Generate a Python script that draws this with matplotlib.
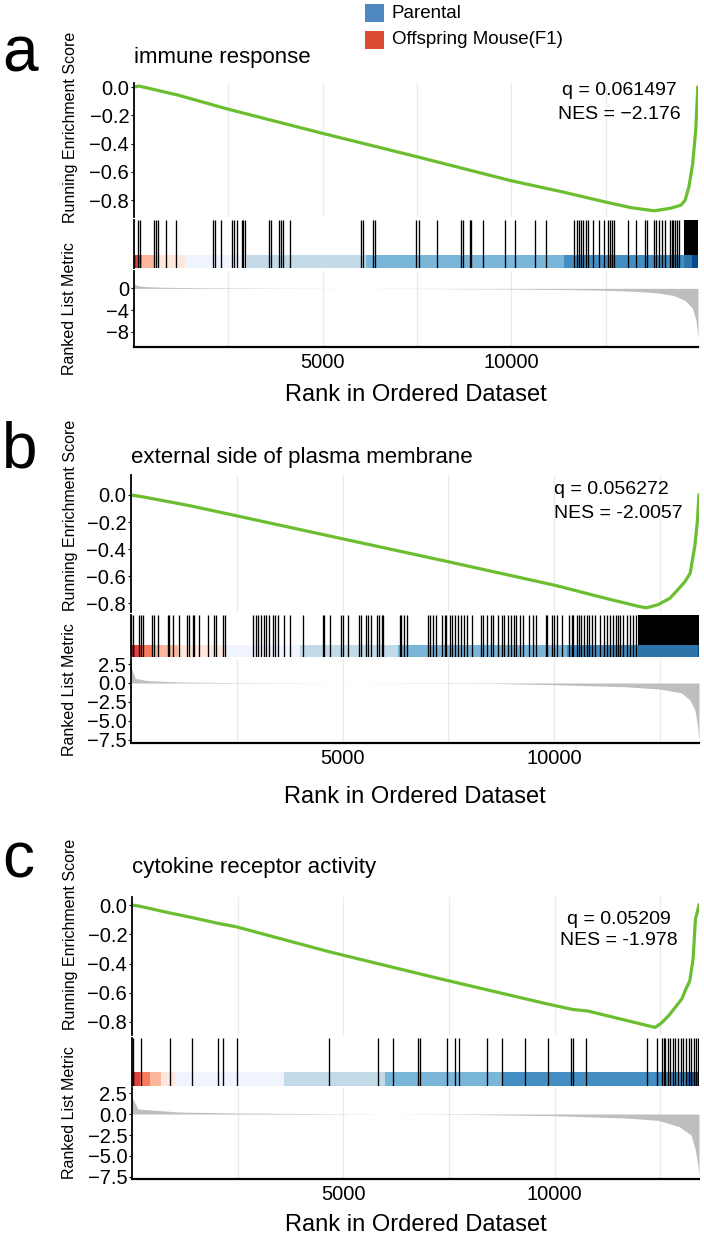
import matplotlib.pyplot as plt
from matplotlib.patches import Rectangle

# --- CONFIGURACION ---
W, H = 704, 1241
plt.rcParams['font.family'] = ['Liberation Sans', 'DejaVu Sans']

# --- DATOS ---
panel_letters = ['a', 'b', 'c']
titles = ['immune response', 'external side of plasma membrane', 'cytokine receptor activity']
q_labels = ['q = 0.061497', 'q = 0.056272', 'q = 0.05209']
nes_labels = ['NES = \u22122.176', 'NES = -2.0057', 'NES = -1.978']
legend_labels = ['Parental', 'Offspring Mouse(F1)']
legend_colors = ['#4f87c1', '#de4b35']
n_genes = [14950, 13420, 13420]

# colour strip (left = highest metric)
bar_colors = ['#A50F15', '#DE2D26', '#FB6A4A', '#FCAE91', '#FEE5D9',
              '#EFF3FF', '#BDD7E7', '#6BAED6', '#3182BD', '#08519C']
bar_breaks_a = [0, 60, 150, 220, 530, 1340, 3000, 6160, 11390, 14800, 14950]
bar_breaks_b = [0, 100, 250, 500, 1100, 2250, 4000, 6310, 10300, 13400, 13420]
bar_breaks_c = [0, 60, 200, 425, 680, 1010, 3590, 5990, 8750, 13140, 13420]

# running enrichment score
es_rank_a = [0, 120, 1140, 2500, 5000, 7490, 10000, 11340, 12500, 13180, 13790, 14200,
             14500, 14610, 14710, 14810, 14890, 14945]
es_val_a = [0.0, 0.009, -0.054, -0.156, -0.327, -0.492, -0.663, -0.741, -0.814, -0.854,
            -0.876, -0.859, -0.836, -0.800, -0.705, -0.540, -0.303, 0.0]
es_rank_b = [0, 320, 1370, 2540, 5070, 7500, 10040, 11090, 12000, 12180, 12450, 12730,
             12910, 13090, 13210, 13320, 13380, 13420]
es_val_b = [0.0, -0.016, -0.078, -0.157, -0.329, -0.494, -0.670, -0.755, -0.825, -0.835,
            -0.812, -0.765, -0.705, -0.640, -0.580, -0.380, -0.200, 0.0]
es_rank_c = [0, 160, 880, 1410, 2050, 2470, 4700, 7300, 9835, 10430, 10790, 12150, 12380,
             12520, 12700, 12880, 13020, 13110, 13200, 13280, 13335, 13420]
es_val_c = [0.0, -0.007, -0.053, -0.085, -0.126, -0.149, -0.322, -0.505, -0.677, -0.714,
            -0.725, -0.821, -0.837, -0.810, -0.757, -0.692, -0.639, -0.574, -0.520,
            -0.370, -0.100, 0.0]

# gene set hits (ranks) and stretches where they merge into solid black
hits_a = [102, 163, 530, 581, 632, 857, 1122, 2091, 2142, 2315, 2591, 2642, 2723, 2856,
          2897, 2948, 3570, 3641, 3845, 3896, 3947, 4131, 6018, 6069, 6324, 6375, 7487,
          7548, 8027, 8660, 8721, 8894, 8945, 9251, 9833, 10098, 10628, 10934, 11669,
          11730, 11801, 11852, 11914, 11975, 12036, 12158, 12322, 12464, 12566, 12617,
          12668, 12719, 13097, 13311, 13535, 13586, 13790, 13841, 13913, 13994, 14076,
          14198, 14249, 14300, 14351, 14402, 14453]
blocks_a = [(14586, 14950)]
hits_b = [10, 55, 182, 227, 291, 500, 545, 636, 873, 909, 1000, 1136, 1318, 1382, 1454,
          1500, 1618, 1818, 1954, 2000, 2163, 2227, 2891, 2954, 3000, 3072, 3136, 3200,
          3272, 3345, 3409, 3472, 3618, 3745, 4072, 4527, 4563, 4690, 4954, 5000, 5136,
          5381, 5436, 5545, 5599, 5681, 5818, 5863, 5927, 5963, 6345, 6390, 6454, 6518,
          7017, 7072, 7136, 7199, 7345, 7408, 7454, 7527, 7590, 7654, 7727, 7799, 7863,
          7927, 8045, 8272, 8317, 8408, 8499, 8545, 8681, 8772, 8817, 8908, 8981, 9045,
          9090, 9181, 9254, 9408, 9499, 9572, 9799, 9835, 9954, 9999, 10072, 10181, 10344,
          10408, 10454, 10526, 10590, 10635, 10708, 10772, 10817, 10890, 10953, 11090,
          11181, 11253, 11317, 11381, 11453, 11517, 11562, 11635, 11726, 11799, 11862,
          11926]
blocks_b = [(11980, 13420)]
hits_c = [18, 218, 900, 1409, 2027, 2154, 2491, 4672, 5827, 6172, 6772, 6818, 7445, 7654,
          7745, 8408, 8763, 9290, 9854, 10381, 10445, 10745, 12199, 12426, 12535, 12581,
          12626, 12681, 12744, 12808, 12863, 12926, 12990, 13044, 13108, 13172, 13226,
          13290, 13354, 13408]
blocks_c = []

# ranked list metric
m_rank_a = [1, 30, 100, 300, 800, 2000, 4000, 6000, 8000, 10000, 11500, 12500, 13300,
            13900, 14300, 14600, 14800, 14900, 14950]
m_val_a = [1.0, 0.75, 0.5, 0.32, 0.2, 0.1, 0.03, 0.0, -0.05, -0.12, -0.22, -0.35, -0.55,
           -0.85, -1.3, -2.2, -3.6, -6.0, -9.3]
m_rank_b = [1, 20, 100, 400, 1200, 2500, 5000, 8500, 10000, 11700, 12500, 13000, 13200,
            13320, 13390, 13420]
m_val_b = [2.4, 1.8, 0.6, 0.3, 0.13, 0.05, 0.0, -0.05, -0.22, -0.5, -0.8, -1.3, -2.2,
           -3.5, -5.8, -7.8]
m_rank_c = [1, 140, 1100, 2500, 5000, 8000, 10000, 11700, 12450, 12950, 13230, 13330,
            13390, 13420]
m_val_c = [2.0, 0.6, 0.24, 0.12, 0.03, -0.05, -0.2, -0.48, -0.75, -1.5, -2.5, -4.2, -6.0,
           -7.4]

es_ticks = [0.0, -0.2, -0.4, -0.6, -0.8]
m_ticks_a = [0, -4, -8]
m_ticks_bc = [2.5, 0.0, -2.5, -5.0, -7.5]

# --- LAYOUT (pixeles del original) ---
layouts = [
    dict(x=(134, 698), es=(83, 217), hits=(220, 268), bar=0.27, m=(271, 347),
         es_lim=(-0.92, 0.03), m_lim=(-10.8, 3.2), title_y=58, letter_y=72,
         ylab_es=127, ylab_m=309, xl_y=395, txt=(12870, -0.02, -0.19, 'center')),
    dict(x=(131, 699), es=(475, 612), hits=(615, 657), bar=0.29, m=(659, 743),
         es_lim=(-0.866, 0.148), m_lim=(-7.9, 3.16), title_y=458, letter_y=468,
         ylab_es=515, ylab_m=690, xl_y=797, txt=(9990, 0.04, -0.14, 'left')),
    dict(x=(132, 699), es=(897, 1035), hits=(1038, 1086), bar=0.29, m=(1088, 1179),
         es_lim=(-0.889, 0.055), m_lim=(-7.74, 3.1), title_y=868, letter_y=878,
         ylab_es=934, ylab_m=1113, xl_y=1225, txt=(11520, -0.1, -0.24, 'center')),
]

GREEN = '#6abe30'
GRID = '#ebebeb'
TICK_FS = 14.5
TXT_FS = 14


def px_axes(fig, xr, yr):
    x0, x1 = xr
    y0, y1 = yr
    return fig.add_axes([x0 / W, 1 - y1 / H, (x1 - x0) / W, (y1 - y0) / H])


def grid_x(ax):
    ax.set_xticks([5000, 10000])
    ax.set_xticks([2500, 7500, 12500], minor=True)
    ax.grid(axis='x', which='both', color=GRID, lw=1.0)
    ax.set_axisbelow(True)


def draw_panel(fig, i, es_rank, es_val, hits, blocks, bar_breaks, m_rank, m_val, m_ticks):
    lay = layouts[i]
    n = n_genes[i]

    # ranked list metric (first, so the colour strip covers the top tick label)
    ax_m = px_axes(fig, lay['x'], lay['m'])
    ax_m.fill_between(m_rank, m_val, 0, color='#bebebe', lw=0)
    ax_m.set_xlim(0, n)
    ax_m.set_ylim(*lay['m_lim'])
    grid_x(ax_m)
    ax_m.set_yticks(m_ticks)
    for s in ['top', 'right']:
        ax_m.spines[s].set_visible(False)
    ax_m.spines['left'].set_linewidth(1.3)
    ax_m.spines['bottom'].set_linewidth(1.6)
    ax_m.tick_params(axis='y', length=2.5, width=0.8, pad=1, labelsize=TICK_FS)
    ax_m.tick_params(axis='x', which='major', length=0, pad=4, labelsize=TICK_FS)
    ax_m.tick_params(axis='x', which='minor', length=0)

    # running enrichment score
    ax_es = px_axes(fig, lay['x'], lay['es'])
    ax_es.plot(es_rank, es_val, color=GREEN, lw=2.3, solid_joinstyle='round')
    ax_es.set_xlim(0, n)
    ax_es.set_ylim(*lay['es_lim'])
    grid_x(ax_es)
    ax_es.set_yticks(es_ticks)
    for s in ['top', 'right', 'bottom']:
        ax_es.spines[s].set_visible(False)
    ax_es.spines['left'].set_linewidth(1.3)
    ax_es.tick_params(axis='x', which='both', length=0, labelbottom=False)
    ax_es.tick_params(axis='y', length=2.5, width=0.8, pad=1, labelsize=TICK_FS)
    tx, qy, ny, ha = lay['txt']
    ax_es.text(tx, qy, q_labels[i], ha=ha, va='center', fontsize=TXT_FS)
    ax_es.text(tx, ny, nes_labels[i], ha=ha, va='center', fontsize=TXT_FS)

    # hits + colour strip
    ax_h = px_axes(fig, lay['x'], lay['hits'])
    ax_h.vlines(hits, 0, 1, color='black', lw=0.95)
    for b0, b1 in blocks:
        ax_h.axvspan(b0, b1, 0, 1, color='black', lw=0)
    for k, col in enumerate(bar_colors):
        ax_h.add_patch(Rectangle((bar_breaks[k], 0), bar_breaks[k + 1] - bar_breaks[k],
                                 lay['bar'], color=col, alpha=0.9, lw=0))
    ax_h.set_xlim(0, n)
    ax_h.set_ylim(0, 1)
    ax_h.set_xticks([])
    ax_h.set_yticks([])
    for s in ['top', 'right', 'bottom']:
        ax_h.spines[s].set_visible(False)
    ax_h.spines['left'].set_linewidth(1.3)

    # labels
    xc = (lay['x'][0] + lay['x'][1]) / 2
    fig.text(xc / W, 1 - lay['xl_y'] / H, 'Rank in Ordered Dataset', ha='center',
             va='center', fontsize=17)
    fig.text(70 / W, 1 - lay['ylab_es'] / H, 'Running Enrichment Score', rotation=90,
             ha='center', va='center', fontsize=11.5)
    fig.text(70 / W, 1 - lay['ylab_m'] / H, 'Ranked List Metric', rotation=90,
             ha='center', va='center', fontsize=11.5)
    fig.text(lay['x'][0] / W, 1 - lay['title_y'] / H, titles[i], ha='left', va='center',
             fontsize=16)
    fig.text(2 / W, 1 - lay['letter_y'] / H, panel_letters[i], ha='left', va='baseline',
             fontsize=46)


fig = plt.figure(figsize=(W / 100, H / 100), dpi=100)

draw_panel(fig, 0, es_rank_a, es_val_a, hits_a, blocks_a, bar_breaks_a, m_rank_a, m_val_a, m_ticks_a)
draw_panel(fig, 1, es_rank_b, es_val_b, hits_b, blocks_b, bar_breaks_b, m_rank_b, m_val_b, m_ticks_bc)
draw_panel(fig, 2, es_rank_c, es_val_c, hits_c, blocks_c, bar_breaks_c, m_rank_c, m_val_c, m_ticks_bc)

# legend (top right)
for k, (lab, col) in enumerate(zip(legend_labels, legend_colors)):
    y0 = 4 + k * 27
    fig.patches.append(Rectangle((365 / W, 1 - (y0 + 18) / H), 19 / W, 18 / H,
                                 transform=fig.transFigure, color=col, lw=0))
    fig.text(392 / W, 1 - (y0 + 9) / H, lab, ha='left', va='center', fontsize=13.5)

fig.savefig('out.png', dpi=100)
